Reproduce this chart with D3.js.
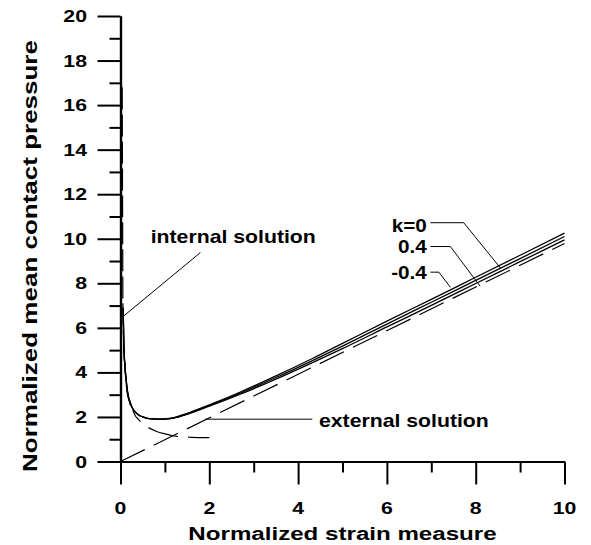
<!DOCTYPE html>
<html>
<head>
<meta charset="utf-8">
<script src="https://cdn.jsdelivr.net/npm/d3@7"></script>
<style>
  body { margin: 0; background: #fff; }
  svg { display: block; }
  text { font-family: "Liberation Sans", Arial, Helvetica, sans-serif; font-weight: bold; fill: #000; }
</style>
</head>
<body>
<svg id="chart" width="591" height="545"></svg>
<script>
// Full solutions for three values of k
const strainK = [0.06, 0.075, 0.1, 0.13, 0.16, 0.2, 0.25, 0.3, 0.4, 0.5, 0.6, 0.75, 0.9, 1.0, 1.2, 1.5, 2.0, 2.7, 3.5, 4.3, 5, 6, 7, 8, 9, 10];
const pressureK0   = [6.9, 5.2, 4.3, 3.6, 3.1, 2.75, 2.48, 2.3, 2.1, 2.0, 1.94, 1.91, 1.9, 1.91, 1.97, 2.16, 2.54, 3.12, 3.84, 4.6, 5.3, 6.3, 7.28, 8.27, 9.26, 10.25];
const pressureK04  = [6.9, 5.2, 4.3, 3.6, 3.1, 2.75, 2.48, 2.3, 2.1, 2.0, 1.94, 1.91, 1.9, 1.91, 1.96, 2.14, 2.51, 3.07, 3.77, 4.51, 5.18, 6.17, 7.15, 8.13, 9.11, 10.1];
const pressureKm04 = [6.9, 5.2, 4.3, 3.6, 3.1, 2.75, 2.48, 2.3, 2.1, 2.0, 1.94, 1.91, 1.9, 1.9, 1.95, 2.12, 2.48, 3.02, 3.7, 4.42, 5.07, 6.04, 7.01, 7.99, 8.97, 9.95];

// Internal (small-strain) asymptotic solution
const strainInternal   = [0.038, 0.045, 0.05, 0.053, 0.058, 0.07, 0.1, 0.15, 0.2, 0.3, 0.34, 0.4, 0.45];
const pressureInternal = [16.8, 12.5, 9.5, 7.5, 6.5, 5.4, 4.2, 3.1, 2.68, 2.2, 2.03, 1.9, 1.79];

// External (large-strain) solutions: linear asymptote and the curved branch
const strainExternalLine   = [0, 10];
const pressureExternalLine = [0, 9.79];
const strainExternalCurve   = [0.63, 0.8, 1.0, 1.3, 1.6, 2.0];
const pressureExternalCurve = [1.52, 1.36, 1.24, 1.12, 1.085, 1.07];

// Axis ticks
const xMajorTicks = [0, 2, 4, 6, 8, 10];
const xMinorTicks = [1, 3, 5, 7, 9];
const yMajorTicks = [0, 2, 4, 6, 8, 10, 12, 14, 16, 18, 20];
const yMinorTicks = [1, 3, 5, 7, 9, 11, 13, 15, 17, 19];

const kLabels = ["k=0", "0.4", "-0.4"];

const svg = d3.select("#chart");
const x = d3.scaleLinear().domain([0, 10]).range([120.5, 564.5]);
const y = d3.scaleLinear().domain([0, 20]).range([461.5, 16]);

const textStretch = 1.25;

// Axes: minor ticks short, major ticks long, both pointing outward
function styleAxis(g) {
  g.select(".domain").attr("stroke", "#000").attr("stroke-width", 2.2);
  g.selectAll(".tick line").attr("stroke", "#000").attr("stroke-width", 2);
  g.selectAll(".tick text").remove();
}
svg.append("g").attr("transform", `translate(0,${y(0)})`)
  .call(d3.axisBottom(x).tickValues(xMinorTicks).tickSize(11).tickSizeOuter(0))
  .call(styleAxis);
svg.append("g").attr("transform", `translate(0,${y(0)})`)
  .call(d3.axisBottom(x).tickValues(xMajorTicks).tickSize(23).tickSizeOuter(0))
  .call(styleAxis);
svg.append("g").attr("transform", `translate(${x(0)},0)`)
  .call(d3.axisLeft(y).tickValues(yMinorTicks).tickSize(11).tickSizeOuter(0))
  .call(styleAxis);
svg.append("g").attr("transform", `translate(${x(0)},0)`)
  .call(d3.axisLeft(y).tickValues(yMajorTicks).tickSize(23).tickSizeOuter(0))
  .call(styleAxis);

// Wide bold lettering
function stretchedText(px, py, str, size, anchor, sx, rot) {
  return svg.append("text")
    .attr("transform", `translate(${px},${py}) rotate(${rot || 0}) scale(${sx},1)`)
    .attr("font-size", size)
    .attr("text-anchor", anchor)
    .text(str);
}
yMajorTicks.forEach(v => stretchedText(87, y(v) + 6, String(v), 17, "end", textStretch));
xMajorTicks.forEach(v => stretchedText(x(v), 514, String(v), 17, "middle", textStretch));

// Axis titles
stretchedText((x(0) + x(10)) / 2, 540, "Normalized strain measure", 19, "middle", 1.27);
stretchedText(37, 256, "Normalized mean contact pressure", 20, "middle", 1.3, -90);

// Curves
const line = d3.line().x(d => x(d[0])).y(d => y(d[1])).curve(d3.curveMonotoneX);
const zipPts = (xs, ys) => xs.map((v, i) => [v, ys[i]]);

[pressureK0, pressureK04, pressureKm04].forEach(p => {
  svg.append("path").datum(zipPts(strainK, p))
    .attr("d", line).attr("fill", "none").attr("stroke", "#000").attr("stroke-width", 1.3);
});

svg.append("path").datum(zipPts(strainInternal, pressureInternal))
  .attr("d", line).attr("fill", "none").attr("stroke", "#000").attr("stroke-width", 1.2)
  .attr("stroke-dasharray", "22,5");
svg.append("path").datum(zipPts(strainExternalLine, pressureExternalLine))
  .attr("d", line).attr("fill", "none").attr("stroke", "#000").attr("stroke-width", 1.2)
  .attr("stroke-dasharray", "27,10");
svg.append("path").datum(zipPts(strainExternalCurve, pressureExternalCurve))
  .attr("d", line).attr("fill", "none").attr("stroke", "#000").attr("stroke-width", 1.2)
  .attr("stroke-dasharray", "31,10");

// Annotations with leader lines
const leader = d3.line().x(d => x(d[0])).y(d => y(d[1]));
function drawLeader(pts) {
  svg.append("path").datum(pts).attr("d", leader)
    .attr("fill", "none").attr("stroke", "#000").attr("stroke-width", 1);
}

stretchedText(x(0.68), y(9.8), "internal solution", 18, "start", 1.18);
drawLeader([[1.8, 9.38], [0.052, 6.5]]);

stretchedText(x(4.47), y(1.54), "external solution", 18, "start", 1.18);
drawLeader([[4.32, 1.9], [1.9, 1.9]]);

const kBaselines = [10.3, 9.36, 8.2];
const kLeaders = [
  [[6.98, 10.72], [7.73, 10.72], [8.56, 8.68]],
  [[6.98, 9.65], [7.43, 9.65], [8.1, 7.87]],
  [[6.98, 8.5], [7.17, 8.5], [7.43, 7.82]]
];
kLabels.forEach((lab, i) => {
  stretchedText(x(6.9), y(kBaselines[i]), lab, 18, "end", 1.15);
  drawLeader(kLeaders[i]);
});
</script>
</body>
</html>
